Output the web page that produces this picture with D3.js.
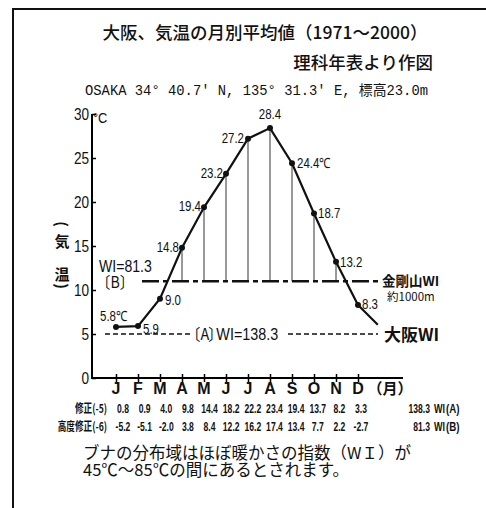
<!DOCTYPE html>
<html>
<head>
<meta charset="utf-8">
<script src="https://cdn.jsdelivr.net/npm/d3@7"></script>
<style>
  body { margin: 0; background: #fff; }
  text { fill: #111; }
  .jp { font-family: "Noto Sans CJK JP", sans-serif; }
  .num { font-family: "Liberation Sans", Arial, sans-serif; }
</style>
</head>
<body>
<div id="chart"></div>
<script>
// monthly mean temperature, Osaka 1971-2000
const months = ["J", "F", "M", "A", "M", "J", "J", "A", "S", "O", "N", "D"];
const temps = [5.8, 5.9, 9.0, 14.8, 19.4, 23.2, 27.2, 28.4, 24.4, 18.7, 13.2, 8.3];
const tempLabels = ["5.8℃", "5.9", "9.0", "14.8", "19.4", "23.2", "27.2", "28.4", "24.4℃", "18.7", "13.2", "8.3"];
const yTicks = [0, 5, 10, 15, 20, 25, 30];
const corrA = ["0.8", "0.9", "4.0", "9.8", "14.4", "18.2", "22.2", "23.4", "19.4", "13.7", "8.2", "3.3"];
const corrB = ["-5.2", "-5.1", "-2.0", "3.8", "8.4", "12.2", "16.2", "17.4", "13.4", "7.7", "2.2", "-2.7"];
const wiA = 138.3, wiB = 81.3;
const baseA = 5, baseB = 11;

const W = 486, H = 508;
const svg = d3.select("#chart").append("svg").attr("width", W).attr("height", H);

// squeeze text horizontally round its anchor, like the narrow face of the original
function condense(sel, k) {
  sel.each(function() {
    const t = d3.select(this);
    const tx0 = +t.attr("x"), ty0 = +t.attr("y");
    t.attr("x", 0).attr("y", 0)
      .attr("transform", "translate(" + tx0 + "," + ty0 + ") scale(" + k + ",1)");
  });
}

// frame
svg.append("path").attr("d", "M13,508V9H486").attr("fill", "none")
  .attr("stroke", "#111").attr("stroke-width", 2);

// headings
svg.append("text").attr("class", "jp").attr("x", 265).attr("y", 39)
  .attr("text-anchor", "middle").attr("font-size", 17.5).attr("font-weight", 500)
  .text("大阪、気温の月別平均値（1971〜2000）");
svg.append("text").attr("class", "jp").attr("x", 433).attr("y", 69)
  .attr("text-anchor", "end").attr("font-size", 17.5).attr("font-weight", 500)
  .text("理科年表より作図");
svg.append("text").attr("x", 85).attr("y", 95)
  .attr("font-family", "'Liberation Mono', 'Noto Sans CJK JP', monospace")
  .attr("font-size", 14).attr("textLength", 343).attr("lengthAdjust", "spacingAndGlyphs")
  .text("OSAKA 34° 40.7′ N, 135° 31.3′ E, 標高23.0m");

const x = d3.scaleLinear().domain([0, 11]).range([116, 358]);
const y = d3.scaleLinear().domain([0, 30]).range([378, 114]);

// axes
const yAxis = svg.append("g").attr("transform", "translate(92,0)")
  .call(d3.axisRight(y).tickValues(yTicks).tickSize(4).tickFormat(""));
yAxis.select(".domain").attr("stroke-width", 2).attr("d", "M0," + y(30) + "V" + y(0));
yAxis.selectAll(".tick line").attr("stroke-width", 1.5);
svg.selectAll("text.ytick").data(yTicks).join("text")
  .attr("class", "ytick num").attr("x", 89).attr("y", d => y(d) + 6)
  .attr("text-anchor", "end").attr("font-size", 17).text(d => d)
  .call(condense, 0.8);
svg.append("text").attr("class", "num").attr("x", 93).attr("y", y(30) + 9)
  .attr("font-size", 15).text("°C").call(condense, 0.85);

const xAxis = svg.append("g").attr("transform", "translate(0," + y(0) + ")")
  .call(d3.axisBottom(x).tickValues(d3.range(12)).tickSize(4).tickFormat(""));
xAxis.select(".domain").attr("stroke-width", 2).attr("d", "M91,0H403");
xAxis.selectAll(".tick line").attr("y1", -4).attr("stroke-width", 1.5);
svg.selectAll("text.month").data(months).join("text")
  .attr("class", "month num").attr("x", (d, i) => x(i)).attr("y", 394)
  .attr("text-anchor", "middle").attr("font-size", 16).attr("font-weight", "bold").text(d => d);
svg.append("text").attr("class", "jp").attr("x", 390).attr("y", 394)
  .attr("text-anchor", "middle").attr("font-size", 15).attr("font-weight", "bold").text("（月）");

// vertical y label: parentheses turned on their side
const ylab = [["(", 224, 90], ["気", 240, 0], ["温", 273, 0], [")", 286, 90]];
svg.selectAll("text.ylab").data(ylab).join("text")
  .attr("class", "ylab jp").attr("x", 0).attr("y", 0)
  .attr("transform", d => "translate(62," + d[1] + ") rotate(" + d[2] + ")")
  .attr("dominant-baseline", "central")
  .attr("text-anchor", "middle").attr("font-size", 15).attr("font-weight", "bold").text(d => d[0]);

// warmth-index hatching down to line B
svg.selectAll("line.hatch").data(temps.map((t, i) => [t, i]).filter(d => d[0] > baseB)).join("line")
  .attr("class", "hatch").attr("x1", d => x(d[1])).attr("x2", d => x(d[1]))
  .attr("y1", d => y(d[0])).attr("y2", y(baseB))
  .attr("stroke", "#555").attr("stroke-width", 1.2);

// line B (dash-dot)
svg.append("line").attr("x1", 142).attr("x2", 378).attr("y1", y(baseB)).attr("y2", y(baseB))
  .attr("stroke", "#111").attr("stroke-width", 2.5).attr("stroke-dasharray", "17,4,5,4");
const labB = svg.append("text").attr("class", "jp").attr("x", 99).attr("y", y(baseB) - 9)
  .attr("font-size", 16);
labB.append("tspan").attr("font-family", "'Liberation Sans', Arial, sans-serif").text("WI=" + wiB);
labB.append("tspan").attr("x", -3).attr("dy", 16).text("〔B〕");
labB.call(condense, 0.88);
svg.append("text").attr("class", "jp").attr("x", 382).attr("y", y(baseB) + 5)
  .attr("font-size", 13.5).attr("font-weight", "bold").text("金剛山WI");
svg.append("text").attr("class", "jp").attr("x", 387).attr("y", y(baseB) + 20)
  .attr("font-size", 11.5).text("約1000m");

// line A (dashed)
[[105, 193], [288, 378]].forEach(seg => {
  svg.append("line").attr("x1", seg[0]).attr("x2", seg[1]).attr("y1", y(baseA)).attr("y2", y(baseA))
    .attr("stroke", "#111").attr("stroke-width", 1.5).attr("stroke-dasharray", "5,3");
});
const labA = svg.append("text").attr("class", "jp").attr("x", 186).attr("y", y(baseA) + 6)
  .attr("font-size", 16);
labA.append("tspan").text("〔A");
labA.append("tspan").attr("dx", -1).text("〕");
labA.append("tspan").attr("dx", -7).attr("font-family", "'Liberation Sans', Arial, sans-serif").text("WI=" + wiA);
labA.call(condense, 0.9);
svg.append("text").attr("class", "jp").attr("x", 384).attr("y", y(baseA) + 7)
  .attr("font-size", 17).attr("font-weight", "bold").text("大阪WI");

// temperature curve, with the tail heading toward the next January
const line = d3.line().x(d => x(d[0])).y(d => y(d[1]));
const pts = temps.map((t, i) => [i, t]);
svg.append("path").datum(pts).attr("d", line).attr("fill", "none")
  .attr("stroke", "#111").attr("stroke-width", 2.2);
const tail = 0.9;
svg.append("path").datum([[11, temps[11]], [11 + tail, temps[11] + tail * (temps[0] - temps[11])]])
  .attr("d", line).attr("fill", "none").attr("stroke", "#111").attr("stroke-width", 2.2);
svg.selectAll("circle.pt").data(pts).join("circle")
  .attr("class", "pt").attr("cx", d => x(d[0])).attr("cy", d => y(d[1])).attr("r", 3).attr("fill", "#111");

// value labels: [dx, dy, anchor]
const place = [[-16, -6, "start"], [5, 8, "start"], [5, 6, "start"], [-3, 4, "end"], [-3, 4, "end"],
  [-3, 4, "end"], [-4, 4, "end"], [0, -9, "middle"], [5, 5, "start"], [4, 5, "start"], [4, 5, "start"], [4, 4, "start"]];
svg.selectAll("text.val").data(pts).join("text")
  .attr("class", "val num").attr("x", d => x(d[0]) + place[d[0]][0])
  .attr("y", d => y(d[1]) + place[d[0]][1]).attr("text-anchor", d => place[d[0]][2])
  .attr("font-size", 14).text(d => tempLabels[d[0]])
  .call(condense, 0.82);

// correction table
const tx = d3.scaleLinear().domain([0, 11]).range([123, 361]);
function row(vals, yy, head, total, tag) {
  svg.append("text").attr("class", "jp").attr("x", 107).attr("y", yy)
    .attr("text-anchor", "end").attr("font-size", 12).attr("font-weight", "bold")
    .text(head).call(condense, 0.72);
  svg.selectAll(null).data(vals).join("text")
    .attr("class", "num").attr("x", (d, i) => tx(i)).attr("y", yy)
    .attr("text-anchor", "middle").attr("font-size", 13).attr("font-weight", "bold").text(d => d)
    .call(condense, 0.66);
  svg.append("text").attr("class", "num").attr("x", 430).attr("y", yy)
    .attr("text-anchor", "end").attr("font-size", 13).attr("font-weight", "bold").text(total).call(condense, 0.66);
  svg.append("text").attr("class", "num").attr("x", 434).attr("y", yy)
    .attr("font-size", 12).attr("font-weight", "bold").text("WI").call(condense, 0.75);
  svg.append("text").attr("class", "num").attr("x", 446).attr("y", yy)
    .attr("font-size", 13).attr("font-weight", "bold").text(tag).call(condense, 0.75);
}
row(corrA, 413, "修正(-5)", wiA, "(A)");
row(corrB, 431, "高度修正(-6)", wiB, "(B)");

// note
const note = svg.append("text").attr("class", "jp").attr("x", 83).attr("y", 459)
  .attr("font-size", 16.5);
note.append("tspan").text("ブナの分布域はほぼ暖かさの指数（WＩ）が");
note.append("tspan").attr("x", 83).attr("dy", 17).text("45℃〜85℃の間にあるとされます。");
</script>
</body>
</html>
